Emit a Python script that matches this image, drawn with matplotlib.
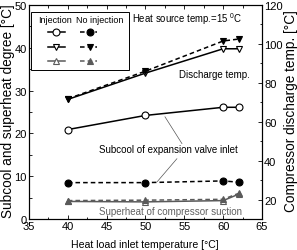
import matplotlib
matplotlib.use("Agg")
import matplotlib.pyplot as plt
from matplotlib.lines import Line2D
from matplotlib.patches import Rectangle
from matplotlib.ticker import MultipleLocator

plt.rcParams['font.family'] = ['Liberation Sans', 'DejaVu Sans']
plt.rcParams['mathtext.fontset'] = 'custom'
plt.rcParams['mathtext.rm'] = 'Liberation Sans'
plt.rcParams['mathtext.it'] = 'Liberation Sans:italic'

# ---- data ----
load_temp = [40, 50, 60, 62]
subcool_inj = [20.9, 24.2, 26.1, 26.1]
subcool_noinj = [8.5, 8.5, 8.9, 8.6]
superheat_inj = [4.1, 4.0, 4.3, 5.8]
superheat_noinj = [4.3, 4.4, 4.6, 6.0]
discharge_inj = [71.5, 85.0, 97.5, 97.5]
discharge_noinj = [71.8, 86.0, 101.5, 102.5]

W, H = 297, 251
fig = plt.figure(figsize=(W / 100, H / 100), dpi=100)
L, R, T, B = 29, 262, 6, 220
ax = fig.add_axes([L / W, (H - B) / H, (R - L) / W, (B - T) / H])
ax2 = ax.twinx()

black = 'black'
gray = '#5a5a5a'
lw = 1.1
ms = 5
dash = (3, 2)

def solid(a, x, y, marker, color):
    a.plot(x, y, color=color, lw=lw, marker=marker, ms=ms, mfc='white',
           mec=color, mew=0.8, zorder=3)

def dashed(a, x, y, marker, color):
    a.plot(x, y, color=color, lw=lw, ls='--', dashes=dash, marker=marker,
           ms=ms, mfc=color, mec=color, mew=0.8, zorder=4)

solid(ax, load_temp, subcool_inj, 'o', black)
dashed(ax, load_temp, subcool_noinj, 'o', black)
solid(ax, load_temp, superheat_inj, '^', gray)
dashed(ax, load_temp, superheat_noinj, '^', gray)
solid(ax2, load_temp, discharge_inj, 'v', black)
dashed(ax2, load_temp, discharge_noinj, 'v', black)

ax.set_xlim(35, 65)
ax.set_ylim(0, 50)
ax2.set_ylim(10, 120)
ax.set_xticks(range(35, 66, 5))
ax.xaxis.set_minor_locator(MultipleLocator(2.5))
ax.set_yticks(range(0, 51, 10))
ax.yaxis.set_minor_locator(MultipleLocator(5))
ax2.set_yticks(range(20, 121, 20))
ax2.yaxis.set_minor_locator(MultipleLocator(10))

ax.tick_params(axis='x', which='both', direction='in', top=True, labelsize=8, pad=1.5)
ax.tick_params(axis='y', which='both', direction='in', right=False, labelsize=8, pad=1.5)
ax2.tick_params(axis='y', which='both', direction='in', labelsize=8, pad=1.5)
for a in (ax, ax2):
    a.tick_params(which='major', length=3, width=0.6)
    a.tick_params(which='minor', length=1.8, width=0.6)
    for s in a.spines.values():
        s.set_linewidth(0.8)

# axis labels
fig.text(145 / W, 1 - 245 / H, 'Heat load inlet temperature [°C]', fontsize=7.6,
         ha='center', va='center')
fig.text(8 / W, 1 - 111 / H, 'Subcool and superheat degree [°C]', fontsize=9.8,
         rotation=90, ha='center', va='center')
fig.text(291 / W, 1 - 111 / H, 'Compressor discharge temp. [°C]', fontsize=9.8,
         rotation=90, ha='center', va='center')

# annotations
ax.text(0.442, 0.939, r'Heat source temp.=15 $^{0}$C', transform=ax.transAxes,
        fontsize=6.9, ha='left', va='center')
ax.text(0.794, 0.678, 'Discharge temp.', transform=ax.transAxes,
        fontsize=7, ha='center', va='center')
ax.text(0.30, 0.327, 'Subcool of expansion valve inlet', transform=ax.transAxes,
        fontsize=7, ha='left', va='center')
ax.text(0.609, 0.037, 'Superheat of compressor suction', transform=ax.transAxes,
        fontsize=7, ha='center', va='center', color='#606060')
ax.annotate('', xy=(52.5, 23.9), xytext=(54.7, 17.6),
            arrowprops=dict(arrowstyle='-', color='#555555', lw=0.5,
                            shrinkA=0, shrinkB=0))
ax.annotate('', xy=(51.5, 8.7), xytext=(54.05, 14.1),
            arrowprops=dict(arrowstyle='-', color='#555555', lw=0.5,
                            shrinkA=0, shrinkB=0))

# custom legend
ax.add_patch(Rectangle((0.009, 0.696), 0.421, 0.271, transform=ax.transAxes,
                       facecolor='white', edgecolor='black', lw=0.7, zorder=5))
ax.text(0.112, 0.932, 'Injection', transform=ax.transAxes, fontsize=6.5,
        ha='center', va='center', zorder=6)
ax.text(0.305, 0.932, 'No injection', transform=ax.transAxes, fontsize=6.5,
        ha='center', va='center', zorder=6)
rows = [(0.874, 'o', black), (0.804, 'v', black), (0.738, '^', gray)]
for yy, mk, col in rows:
    ax.add_line(Line2D([0.082, 0.155], [yy, yy], transform=ax.transAxes,
                       color=col, lw=lw, zorder=6))
    ax.add_line(Line2D([0.118], [yy], transform=ax.transAxes, marker=mk,
                       ms=ms, mfc='white', mec=col, mew=0.8, ls='none', zorder=7))
    ax.add_line(Line2D([0.219, 0.292], [yy, yy], transform=ax.transAxes,
                       color=col, lw=lw, ls='--', dashes=dash, zorder=6))
    ax.add_line(Line2D([0.262], [yy], transform=ax.transAxes, marker=mk,
                       ms=ms, mfc=col, mec=col, mew=0.8, ls='none', zorder=7))

fig.savefig('out.png', dpi=100)
